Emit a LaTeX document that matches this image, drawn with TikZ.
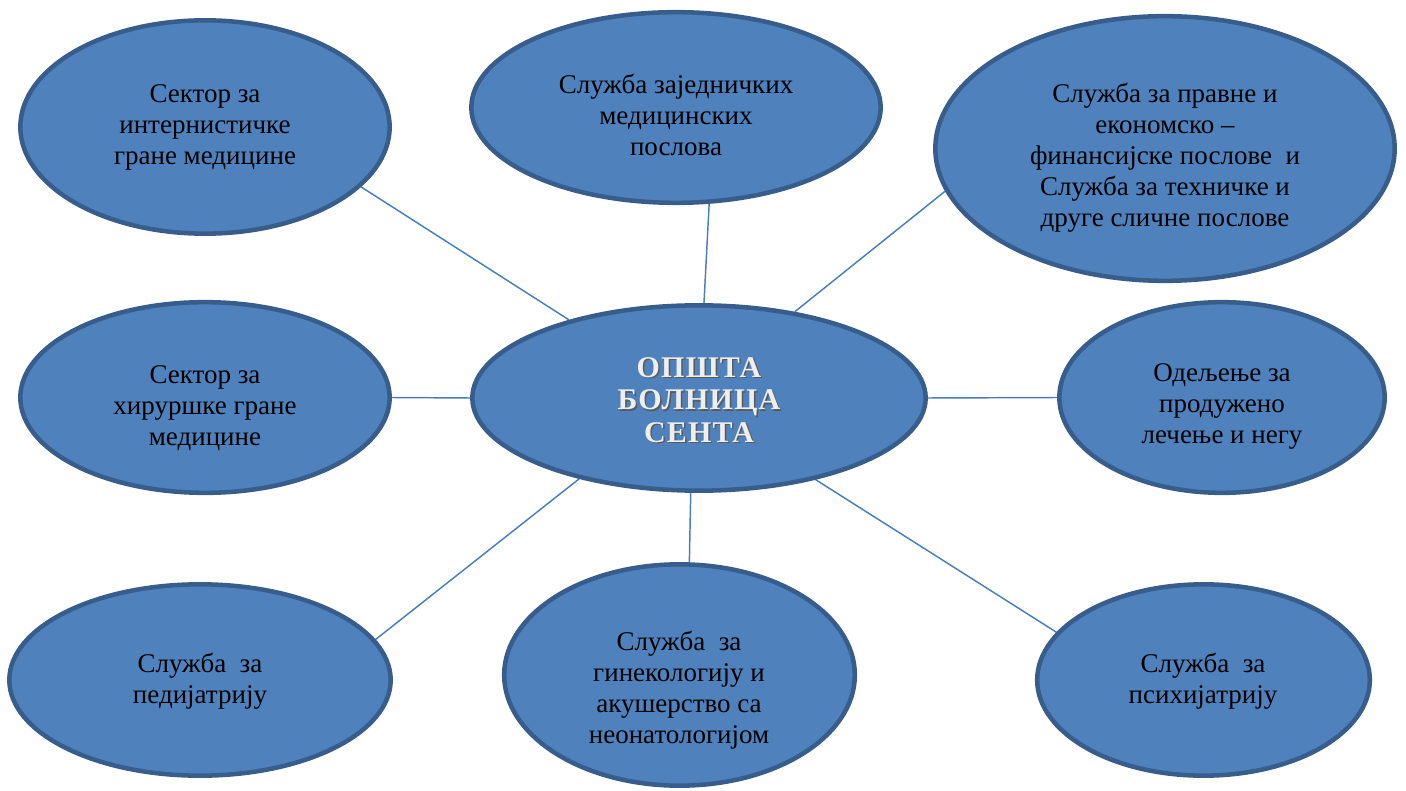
\documentclass[tikz,border=0pt]{standalone}
\usepackage{fontspec}
\setmainfont{Liberation Serif}
\newfontfamily\titlefont[LetterSpace=4]{Liberation Serif}
\usetikzlibrary{shapes.geometric,backgrounds}
\definecolor{bubblefill}{HTML}{4F81BD}
\definecolor{bubbleborder}{HTML}{385D8A}
\definecolor{linkblue}{HTML}{4A7EBB}
\definecolor{titlefront}{HTML}{EEEEEE}
\definecolor{titleshadow}{HTML}{5A5A5A}
\begin{document}
\begin{tikzpicture}[x=0.75pt,y=-0.75pt,
  bubble/.style={ellipse, draw=bubbleborder, fill=bubblefill, line width=3.4pt, inner sep=0pt},
  lbl/.style={align=center, inner sep=0pt, text=black, font=\fontsize{20.25}{23.25}\selectfont},
  ttl/.style={align=center, inner sep=0pt, font=\titlefont\bfseries\fontsize{22.5}{24.5}\selectfont},
  link/.style={draw=linkblue, line width=1.1pt}]
\useasboundingbox (0,0) rectangle (1406,791);

% ellipses
\node[bubble, minimum width=277pt, minimum height=160pt] (tl) at (205,127) {};
\node[bubble, minimum width=307pt, minimum height=143pt] (tc) at (676,107.5) {};
\node[bubble, minimum width=344.5pt, minimum height=198.5pt] (tr) at (1165,148.5) {};
\node[bubble, minimum width=340pt, minimum height=139pt] (c) at (699,398) {};
\node[bubble, minimum width=277pt, minimum height=143pt] (ml) at (205,397.5) {};
\node[bubble, minimum width=244pt, minimum height=143pt] (mr) at (1222,397.5) {};
\node[bubble, minimum width=286pt, minimum height=143.5pt] (bl) at (200,680) {};
\node[bubble, minimum width=263pt, minimum height=166pt] (bc) at (679.5,675) {};
\node[bubble, minimum width=249.5pt, minimum height=143.5pt] (br) at (1203.5,680) {};

% connectors
\begin{scope}[on background layer]
\draw[link] (tl.-21.2) -- (c.149.4);
\draw[link] (tc.-71.3) -- (c.87.7);
\draw[link] (tr.191.2) -- (c.42.3);
\draw[link] (ml.-0.8) -- (c.180.5);
\draw[link] (c.east) -- (mr.west);
\draw[link] (bl.13.3) -- (c.214.6);
\draw[link] (bc.85.2) -- (c.265.9);
\draw[link] (br.162.5) -- (c.-35.8);
\end{scope}

% labels
\node[lbl] (tlt) at (205,127) {Сектор за\\интернистичке\\гране медицине};
\node[lbl] (tct) at (676,115) {Служба заједничких\\медицинских\\послова};
\node[lbl] (trt) at (1165,158) {Служба за правне и\\економско –\\финансијске послове\ \ и\\Служба за техничке и\\друге сличне послове};
\node[lbl] (mlt) at (205,408) {Сектор за\\хируршке гране\\медицине};
\node[lbl] (mrt) at (1222,406) {Одељење за\\продужено\\лечење и негу};
\node[lbl] (blt) at (200,681) {Служба\ \ за\\педијатрију};
\node[lbl] (bct) at (679,690) {Служба\ \ за\\гинекологију и\\акушерство са\\неонатологијом};
\node[lbl] (brt) at (1203,681) {Служба\ \ за\\психијатрију};

% title with shadow
\node[ttl, text=titleshadow] (cts) at (700.5,401.5) {ОПШТА\\БОЛНИЦА\\СЕНТА};
\node[ttl, text=titlefront] (ct) at (699,400) {ОПШТА\\БОЛНИЦА\\СЕНТА};
\end{tikzpicture}
\end{document}
